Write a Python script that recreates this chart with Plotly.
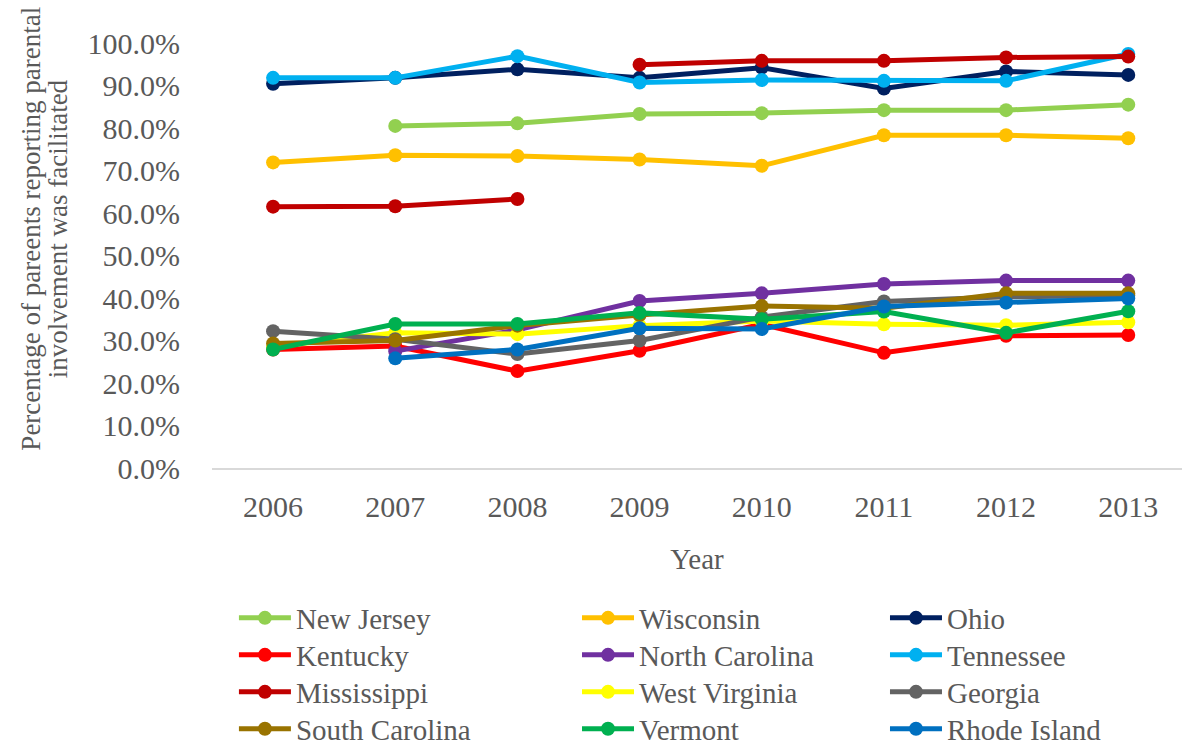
import plotly.graph_objects as go

years = [2006, 2007, 2008, 2009, 2010, 2011, 2012, 2013]

new_jersey = [None, 80.5, 81.1, 83.3, 83.5, 84.2, 84.2, 85.5]
wisconsin = [71.9, 73.6, 73.4, 72.6, 71.1, 78.3, 78.3, 77.6]
ohio = [90.4, 91.8, 93.8, 91.8, 94.2, 89.3, 93.3, 92.5]
kentucky = [27.9, 28.7, 22.8, 27.6, 33.8, 27.1, 31.1, 31.3]
north_carolina = [None, 27.5, 32.5, 39.3, 41.1, 43.3, 44.1, 44.1]
tennessee = [91.8, 91.8, 96.9, 90.7, 91.3, 91.1, 91.1, 97.4]
mississippi = [61.5, 61.6, 63.3, 94.9, 95.8, 95.8, 96.6, 96.8]
mississippi_break_after = 2008  # no connecting segment between 2008 and 2009
west_virginia = [28.5, 31.8, 31.5, 33.5, 34.6, 33.8, 33.6, 34.3]
georgia = [32.2, 30.3, 26.8, 30.0, 35.5, 39.2, 40.3, 40.6]
south_carolina = [29.3, 30.0, 33.5, 36.0, 38.1, 37.6, 41.1, 41.1]
vermont = [27.9, 33.9, 33.9, 36.5, 35.0, 36.8, 31.8, 36.9]
rhode_island = [None, 25.8, 27.9, 32.9, 32.7, 38.0, 38.9, 39.9]

series = [
    ("New Jersey", new_jersey, "#92D050"),
    ("Wisconsin", wisconsin, "#FFC000"),
    ("Ohio", ohio, "#002060"),
    ("Kentucky", kentucky, "#FF0000"),
    ("North Carolina", north_carolina, "#7030A0"),
    ("Tennessee", tennessee, "#00B0F0"),
    ("Mississippi", mississippi, "#C00000"),
    ("West Virginia", west_virginia, "#FFFF00"),
    ("Georgia", georgia, "#636363"),
    ("South Carolina", south_carolina, "#997300"),
    ("Vermont", vermont, "#00B050"),
    ("Rhode Island", rhode_island, "#0070C0"),
]

y_title_lines = ["Percentage of pareents reporting parental", "involvement was facilitated"]

FONT = "Liberation Serif"
TXT = "#595959"

# legend grid (paper coordinates): 3 columns x 4 rows
legend_cols_x = [0.0226, 0.3763, 0.6938]
legend_rows_y = [-0.3529, -0.44, -0.527, -0.614]

fig = go.Figure()
legend_layouts = {}
for i, (name, vals, color) in enumerate(series):
    xs, ys = [], []
    for yr, v in zip(years, vals):
        xs.append(yr)
        ys.append(None if v is None else v / 100)
        if name == "Mississippi" and yr == mississippi_break_after:
            xs.append(None)
            ys.append(None)
    lid = "legend" if i == 0 else f"legend{i + 1}"
    fig.add_trace(go.Scatter(
        x=xs, y=ys, name=name, mode="lines+markers",
        line=dict(color=color, width=5),
        marker=dict(color=color, size=14),
        connectgaps=False,
        legend=lid,
    ))
    legend_layouts[lid] = dict(
        orientation="v", xanchor="left", yanchor="middle",
        x=legend_cols_x[i % 3], y=legend_rows_y[i // 3],
        font=dict(family=FONT, size=29, color=TXT),
        itemwidth=52, bgcolor="rgba(0,0,0,0)",
    )

fig.update_layout(
    width=1182, height=747,
    margin=dict(l=212, r=0, t=43, b=279, autoexpand=False),
    paper_bgcolor="white", plot_bgcolor="white",
    font=dict(family=FONT, size=29, color=TXT),
    showlegend=True,
    **legend_layouts,
)
fig.update_xaxes(
    range=[2005.5, 2013.44], tickmode="array", tickvals=years,
    ticktext=[str(y) for y in years],
    tickfont=dict(family=FONT, size=30, color=TXT),
    showgrid=False, zeroline=False,
    showline=True, linecolor="#D9D9D9", linewidth=2,
    ticks="", ticklabelstandoff=11,
    title=dict(text="Year", font=dict(family=FONT, size=29, color=TXT), standoff=27),
)
fig.update_yaxes(
    range=[0, 1.0], tickmode="linear", tick0=0, dtick=0.1, tickformat=".1%",
    tickfont=dict(family=FONT, size=30, color=TXT),
    showgrid=False, zeroline=False, showline=False, ticks="",
    ticklabelstandoff=31,
)
for txt, xpos in zip(y_title_lines, [-0.1875, -0.159]):
    fig.add_annotation(
        text=txt, xref="paper", yref="paper", x=xpos, y=0.5635,
        xanchor="center", yanchor="middle", textangle=-90, showarrow=False,
        font=dict(family=FONT, size=27, color=TXT),
    )

fig.write_html("out.html")
